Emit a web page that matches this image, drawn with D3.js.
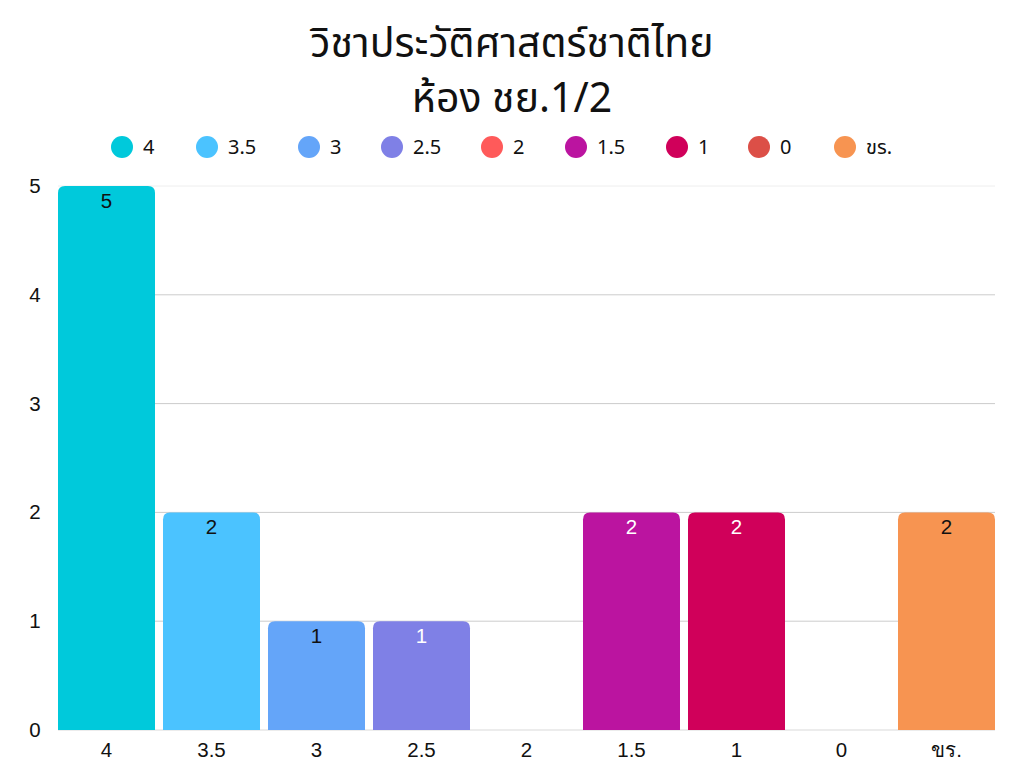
<!DOCTYPE html>
<html><head><meta charset="utf-8">
<script src="https://cdn.jsdelivr.net/npm/d3@7"></script>
<style>body{margin:0;background:#fff}svg{display:block}</style>
</head><body>
<script>
const titleLines = ["วิชาประวัติศาสตร์ชาติไทย", "ห้อง ชย.1/2"];
const categories = ["4", "3.5", "3", "2.5", "2", "1.5", "1", "0", "ขร."];
const values = [5, 2, 1, 1, 0, 2, 2, 0, 2];
const colors = ["#00C9DB", "#4BC3FF", "#64A5F9", "#7F80E6", "#FF5A5A", "#BB14A0", "#D0005A", "#DC4F47", "#F79451"];
const labelColors = ["#111", "#111", "#111", "#fff", "#fff", "#fff", "#fff", "#fff", "#111"];
const yTicks = [0, 1, 2, 3, 4, 5];

const W = 1024, H = 768;
const svg = d3.select("body").append("svg").attr("width", W).attr("height", H);
const font = "'Noto Sans', 'Noto Sans Thai', sans-serif";
const axisFont = "'Liberation Sans', Arial, sans-serif";

svg.selectAll("text.title").data(titleLines).join("text")
  .attr("x", W / 2).attr("y", (d, i) => 57 + i * 55)
  .attr("text-anchor", "middle").attr("font-family", font)
  .attr("font-size", 41).attr("fill", "#111").text(d => d);

const x = d3.scaleBand().domain(categories).range([58, 995]).paddingInner(8 / 105).paddingOuter(0);
const y = d3.scaleLinear().domain([0, 5]).range([730, 186]);

// legend
const legendX = [122, 207, 309, 392, 492, 576, 677, 759, 845];
const lg = svg.append("g");
categories.forEach((c, i) => {
  const g = lg.append("g").attr("transform", `translate(${legendX[i]},147)`);
  g.append("circle").attr("r", 11).attr("fill", colors[i]);
  g.append("text").attr("x", 21).attr("y", 7).attr("font-family", font)
    .attr("font-size", 20).attr("fill", "#111").text(c);
});

// gridlines
svg.append("g").selectAll("line").data(yTicks).join("line")
  .attr("x1", 58).attr("x2", 995)
  .attr("y1", d => y(d)).attr("y2", d => y(d))
  .attr("stroke", d => d === 5 ? "#eeeeee" : (d === 0 ? "#d9d9d9" : "#cccccc"))
  .attr("stroke-width", 1);

// y tick labels
svg.append("g").selectAll("text").data(yTicks).join("text")
  .attr("x", 35).attr("y", d => y(d) + 7).attr("text-anchor", "middle")
  .attr("font-family", axisFont).attr("font-size", 20.5).attr("fill", "#111")
  .text(d => d);

// bars (rounded top corners)
function barPath(x0, w, yTop, yBot, r) {
  const h = yBot - yTop;
  if (h <= 0) return "";
  r = Math.min(r, h, w / 2);
  return `M${x0},${yBot}V${yTop + r}Q${x0},${yTop} ${x0 + r},${yTop}H${x0 + w - r}Q${x0 + w},${yTop} ${x0 + w},${yTop + r}V${yBot}Z`;
}
const data = categories.map((c, i) => ({ c, v: values[i], i }));
svg.append("g").selectAll("path").data(data.filter(d => d.v > 0)).join("path")
  .attr("d", d => barPath(x(d.c), x.bandwidth(), y(d.v), y(0), 7))
  .attr("fill", d => colors[d.i]);

svg.append("g").selectAll("text").data(data.filter(d => d.v > 0)).join("text")
  .attr("x", d => x(d.c) + x.bandwidth() / 2).attr("y", d => y(d.v) + 22)
  .attr("text-anchor", "middle").attr("font-family", axisFont).attr("font-size", 20.5)
  .attr("fill", d => labelColors[d.i]).text(d => d.v);

// x tick labels
svg.append("g").selectAll("text").data(categories).join("text")
  .attr("x", d => x(d) + x.bandwidth() / 2).attr("y", 757)
  .attr("text-anchor", "middle").attr("font-family", axisFont).attr("font-size", 20.5)
  .attr("fill", "#111").text(d => d);
</script>
</body></html>
